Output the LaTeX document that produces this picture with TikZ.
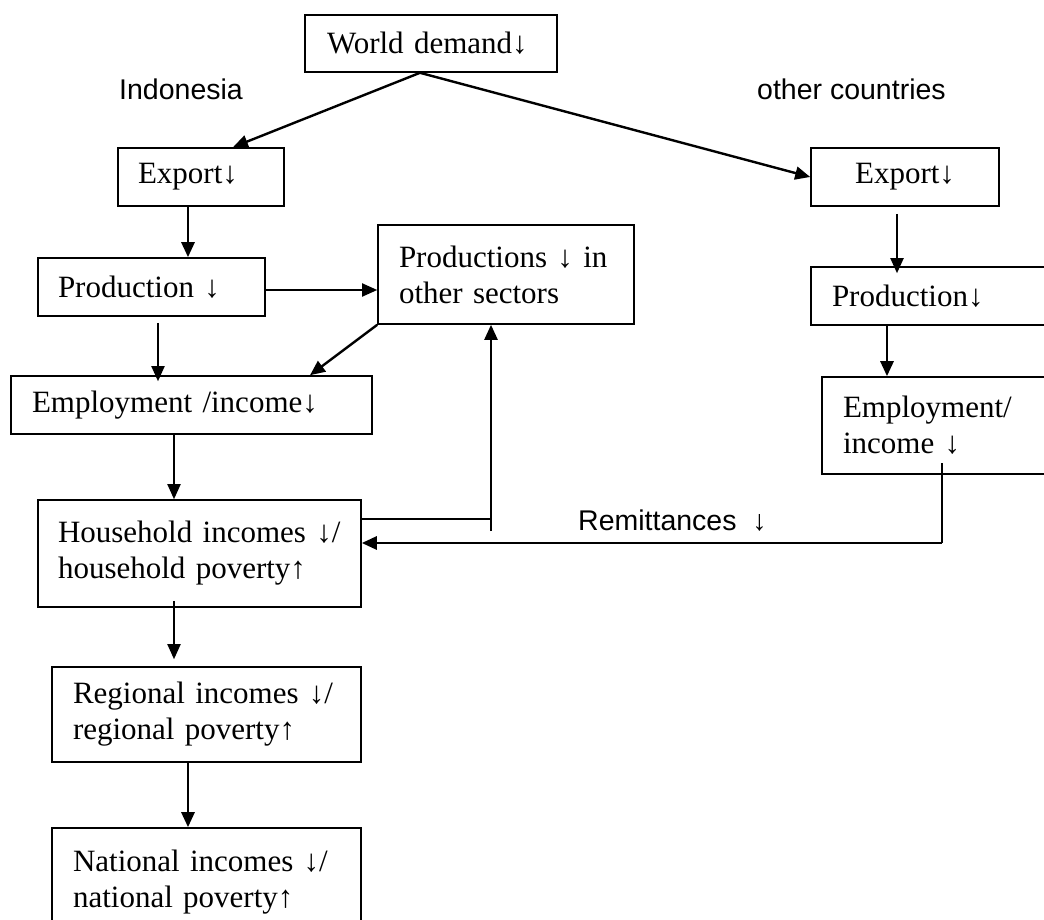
\documentclass[tikz,border=0pt]{standalone}
\usepackage{fontspec}
\setmainfont{Liberation Serif}
\setsansfont{Liberation Sans}
\usetikzlibrary{arrows.meta}

\tikzset{
  box/.style={draw, line width=1.6pt, align=left, inner ysep=0pt,
    font=\fontsize{31}{36}\selectfont},
  lbl/.style={font=\sffamily\fontsize{28.5}{34}\selectfont, inner sep=0pt},
  arr/.style={-{Triangle[length=15pt,width=13pt]}, line width=1.9pt},
  boldarr/.style={arr, line width=2.8pt}
}

\begin{document}
\begin{tikzpicture}[x=1pt,y=-1pt]
\clip (0,0) rectangle (1044,920);
\node[box, text width=208pt, inner xsep=22pt, minimum height=57pt] (wd) at (431,43.5) {World demand↓};
\node[lbl, anchor=base west] (indo) at (119,100) {Indonesia};
\node[lbl, anchor=base west] (others) at (757,100) {other countries};
% Indonesia side
\node[box, text width=126pt, inner xsep=20pt, minimum height=58pt] (expA) at (201,177) {Export↓};
\node[box, text width=187pt, inner xsep=20pt, minimum height=58pt] (prodA) at (151.5,287) {Production ↓};
\node[box, text width=214pt, inner xsep=21pt, minimum height=99pt] (other) at (506,274.5) {Productions~↓~in\\other sectors};
\node[box, text width=319pt, inner xsep=21pt, minimum height=58pt] (empA) at (191.5,405) {Employment /income↓};
\node[box, text width=283pt, inner xsep=20pt, minimum height=107pt] (hh) at (199.5,553.5) {Household~incomes~↓/\\household~poverty↑};
\node[box, text width=267pt, inner xsep=21pt, minimum height=95pt] (reg) at (206.5,714.5) {Regional~incomes~↓/\\regional~poverty↑};
\node[box, text width=267pt, inner xsep=21pt, minimum height=108pt] (nat) at (206.5,882) {National~incomes~↓/\\national~poverty↑};
% other countries side
\node[box, align=center, text width=148pt, inner xsep=20pt, minimum height=58pt] (expB) at (905,177) {Export↓};
\node[box, text width=218pt, inner xsep=21pt, minimum height=58pt] (prodB) at (941,296) {Production↓};
\node[box, text width=207pt, inner xsep=21pt, minimum height=97pt] (empB) at (946.5,425.5) {Employment/\\income ↓};
\node[lbl, anchor=base west] (remit) at (578,530) {Remittances\ \ ↓};
\coordinate (fb) at (491,531);
\coordinate (rm) at (942,463);
\coordinate (rmc) at (942,543);

\draw[arr, line width=2.4pt] ([xshift=-11pt]wd.south) -- ([xshift=32pt]expA.north);
\draw[arr, line width=2.4pt] ([xshift=-11pt]wd.south) -- (expB.west);
\draw[boldarr] ([xshift=-13pt]expA.south) -- ([xshift=-13pt]expA.south |- prodA.north);
\draw[arr] ([yshift=-3pt]prodA.east) -- ([yshift=-3pt]prodA.east -| other.west);
\draw[arr] ([xshift=6.5pt,yshift=-6pt]prodA.south) -- ([xshift=6.5pt,yshift=-6pt]prodA.south |- empA.north);
\draw[arr, line width=2.4pt] (other.south west) -- ([xshift=118.5pt]empA.north);
\draw[arr] ([xshift=-17.5pt]empA.south) -- ([xshift=-17.5pt]empA.south |- hh.north);
\draw[line width=1.6pt] ([yshift=34.5pt]hh.east) -- ([yshift=34.5pt]hh.east -| fb);
\draw[arr, line width=2.4pt] (fb) -- (fb |- other.south);
\draw[line width=1.6pt] (rm) -- (rmc);
\draw[boldarr] (rmc) -- (rmc -| hh.east);
\draw[arr] ([xshift=-25.5pt,yshift=7pt]hh.south) -- ([xshift=-25.5pt,yshift=7pt]hh.south |- reg.north);
\draw[boldarr] ([xshift=-18.5pt]reg.south) -- ([xshift=-18.5pt]reg.south |- nat.north);
\draw[arr] ([xshift=-8pt,yshift=-7pt]expB.south) -- ([xshift=-8pt,yshift=-7pt]expB.south |- prodB.north);
\draw[boldarr] ([xshift=-54pt]prodB.south) -- ([xshift=-54pt]prodB.south |- empB.north);
\end{tikzpicture}
\end{document}
